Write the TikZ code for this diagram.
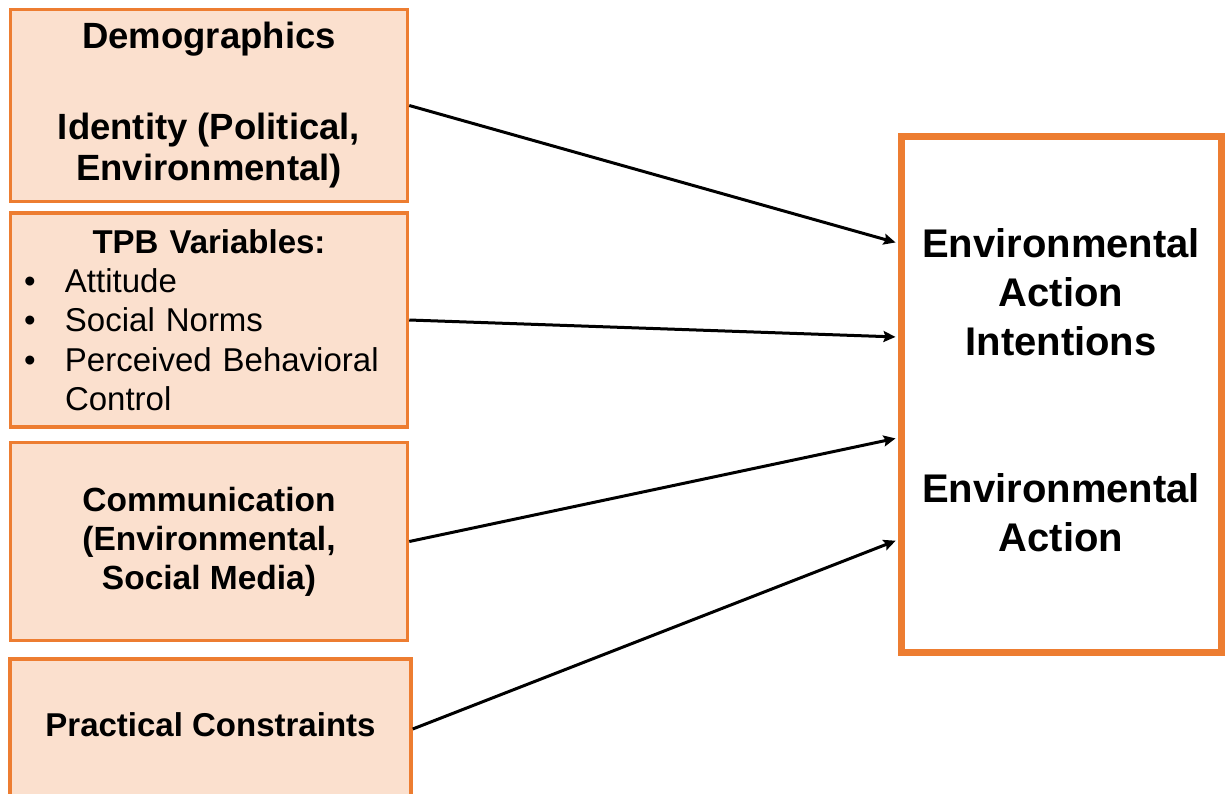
\documentclass[tikz,border=0pt]{standalone}
\usepackage{fontspec}
\setmainfont{Liberation Sans}
\usetikzlibrary{arrows.meta}
\definecolor{boxorange}{HTML}{ED7D31}
\definecolor{boxfill}{HTML}{FBE0CE}
\tikzstyle{factor} = [draw=boxorange, fill=boxfill, line width=3.5pt, minimum width=397pt, align=center]
\tikzstyle{outcome} = [draw=boxorange, line width=7pt, minimum width=320pt, minimum height=516pt, align=center, text depth=8pt, font=\bfseries\fontsize{40}{49}\selectfont]
\tikzstyle{link} = [line width=3pt, shorten >=2pt, -{Stealth[length=12pt,width=11pt,inset=2pt]}]

\begin{document}
\begin{tikzpicture}[x=1pt, y=-1pt]
    \path[use as bounding box, fill=white] (0,0) rectangle (1225,793);

    % predictors on the left
    \node[factor, minimum height=192pt, font=\bfseries\fontsize{36.5}{41}\selectfont] (demo) at (209,105.5)
        {Demographics\\[50pt]Identity (Political,\\Environmental)};
    \node[factor, minimum height=214pt, text width=370pt, align=left, font=\fontsize{33}{39.3}\selectfont] (tpb) at (209,320)
        {\hfill\textbf{TPB Variables:}\hfill\null\\
         \makebox[41pt][l]{\textbullet}Attitude\\
         \makebox[41pt][l]{\textbullet}Social Norms\\
         \makebox[41pt][l]{\textbullet}Perceived Behavioral\\
         \makebox[41pt][l]{}Control};
    \node[factor, minimum height=198pt, font=\bfseries\fontsize{33.5}{39}\selectfont] (comm) at (209,541.5)
        {Communication\\(Environmental,\\Social Media)};
    \node[factor, minimum width=401pt, minimum height=140pt, text depth=8pt, font=\bfseries\fontsize{33}{39}\selectfont] (prac) at (210.5,729)
        {Practical Constraints};

    % outcomes on the right
    \node[outcome] (act) at (1061,394)
        {Environmental\\Action\\Intentions\\[98pt]Environmental\\Action};

    \draw[link] (demo.east) -- ([yshift=151pt]act.west);
    \draw[link] (tpb.east)  -- ([yshift=57pt]act.west);
    \draw[link] (comm.east) -- ([yshift=-44pt]act.west);
    \draw[link] (prac.east) -- ([yshift=-146pt]act.west);
\end{tikzpicture}
\end{document}
